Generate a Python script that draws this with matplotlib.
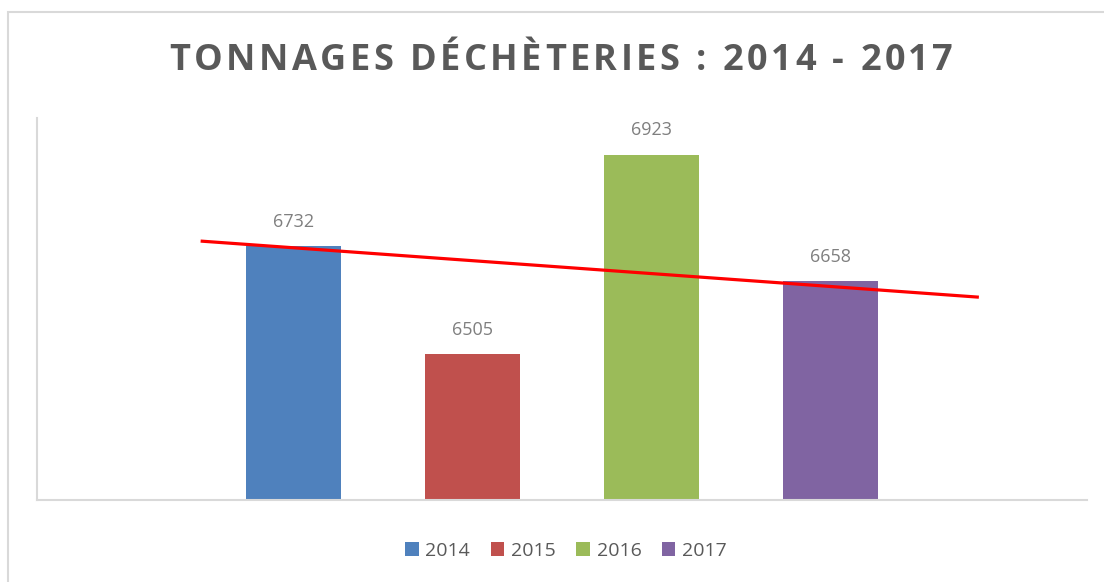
import matplotlib
matplotlib.use('Agg')
from matplotlib import pyplot as plt
from matplotlib.patches import Rectangle

years = ['2014', '2015', '2016', '2017']
tonnages = [6732, 6505, 6923, 6658]
colors = ['#4F81BD', '#C0504D', '#9BBB59', '#8064A2']
# tendance tracée à la main (positions de catégorie, tonnes)
trend_x = [-0.51, 3.82]
trend_y = [6742, 6625]
title = 'TONNAGES DÉCHÈTERIES : 2014 - 2017'

plt.rcParams['font.family'] = ['Open Sans', 'DejaVu Sans']

fig = plt.figure(figsize=(11.04, 5.82), dpi=100)
W, H = 1104, 582

# cadre du graphique
fig.patches.append(Rectangle((8 / W, -0.1), 1.2, 1 - 12 / H + 0.1,
                             transform=fig.transFigure, fill=False,
                             edgecolor='#d9d9d9', linewidth=1.5))

ax = fig.add_axes([37 / W, 1 - 500 / H, (1087 - 37) / W, (500 - 118) / H])
x = range(len(years))
bars = ax.bar(x, tonnages, width=0.53, color=colors, label=years, zorder=2)
for xi, v in zip(x, tonnages):
    ax.annotate(str(v), (xi, v), xytext=(0, 11), textcoords='offset points',
                ha='center', va='bottom', fontsize=13, color='#7f7f7f')
ax.plot(trend_x, trend_y, color='#FF0000', linewidth=2.3, zorder=3)

ax.set_xlim(-1.433, 4.433)
ax.set_ylim(6200, 7000)
ax.set_xticks([])
ax.set_yticks([])
for s in ['top', 'right']:
    ax.spines[s].set_visible(False)
for s in ['left', 'bottom']:
    ax.spines[s].set_color('#d9d9d9')
    ax.spines[s].set_linewidth(1.5)

# titre avec espacement des lettres
renderer = fig.canvas.get_renderer()
spacing = 3.5
tprops = dict(fontsize=26, fontweight='bold', color='#595959', va='center', ha='left')
widths = []
for ch in title:
    t = fig.text(0, 0, ch if ch != ' ' else 'a a', **tprops)
    w = t.get_window_extent(renderer).width
    if ch == ' ':
        t2 = fig.text(0, 0, 'aa', **tprops)
        w = w - t2.get_window_extent(renderer).width
        t2.remove()
    t.remove()
    widths.append(w)
total = sum(widths) + spacing * (len(title) - 1)
xpos = 561 - total / 2
for ch, w in zip(title, widths):
    if ch != ' ':
        fig.text(xpos / W, 1 - 61 / H, ch, **tprops)
    xpos += w + spacing

fig.legend(handles=bars, labels=years, loc='center', bbox_to_anchor=(566 / W, 1 - 551 / H),
           ncol=4, frameon=False, fontsize=14, handlelength=0.7, handleheight=0.7,
           handletextpad=0.35, columnspacing=1.05, labelcolor='#595959')

fig.savefig('out.png', dpi=100)
